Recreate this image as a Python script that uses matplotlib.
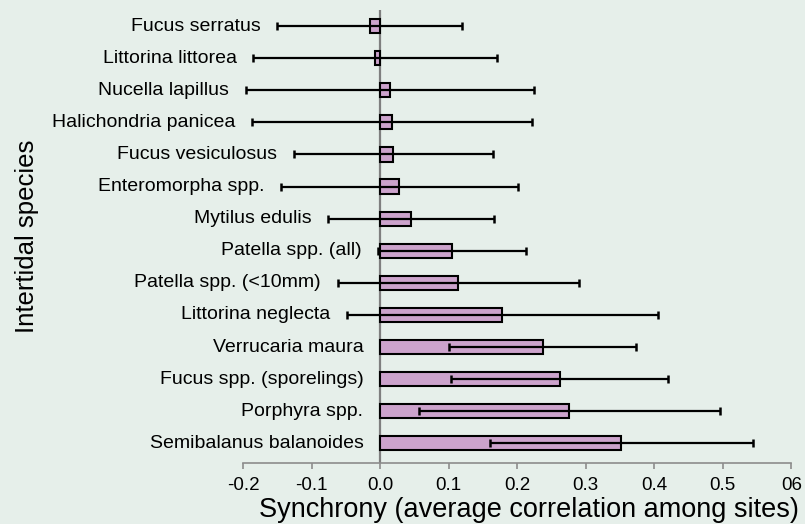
import numpy as np
import matplotlib
matplotlib.use("Agg")
import matplotlib.pyplot as plt

plt.rcParams['font.family'] = ['Liberation Sans', 'DejaVu Sans']

# species listed top to bottom
species = [
    "Fucus serratus", "Littorina littorea", "Nucella lapillus",
    "Halichondria panicea", "Fucus vesiculosus", "Enteromorpha spp.",
    "Mytilus edulis", "Patella spp. (all)", "Patella spp. (<10mm)",
    "Littorina neglecta", "Verrucaria maura", "Fucus spp. (sporelings)",
    "Porphyra spp.", "Semibalanus balanoides",
]
synchrony = [-0.015, -0.007, 0.014, 0.017, 0.019, 0.028, 0.045,
             0.105, 0.114, 0.178, 0.237, 0.262, 0.276, 0.352]
errors = [0.135, 0.178, 0.210, 0.204, 0.145, 0.173, 0.121,
          0.108, 0.176, 0.227, 0.137, 0.158, 0.220, 0.192]
xticks = [-0.2, -0.1, 0.0, 0.1, 0.2, 0.3, 0.4, 0.5, 0.6]
xticklabels = ["-0.2", "-0.1", "0.0", "0.1", "0.2", "0.3", "0.4", "0.5", "06"]

bg = "#e6efea"
fig = plt.figure(figsize=(8.05, 5.24), dpi=100, facecolor=bg)
ax = fig.add_axes([0.302, 0.117, 0.681, 0.864], facecolor=bg)

n = len(species)
ypos = np.arange(n)[::-1]

ax.axvline(0, color="#7f7f7f", lw=1.6, zorder=1)
ax.barh(ypos, synchrony, height=0.44, color="#cca3cc", edgecolor="black",
        linewidth=1.5, zorder=2)
ax.errorbar(synchrony, ypos, xerr=errors, fmt="none", ecolor="black",
            elinewidth=1.6, capsize=3, capthick=1.8, zorder=3)

for name, val, err, y in zip(species, synchrony, errors, ypos):
    left = min(val - err, 0)
    ax.annotate(name, xy=(left, y), xytext=(-12, 0), textcoords="offset points",
                ha="right", va="center", fontsize=14, annotation_clip=False)

ax.set_xlim(-0.2, 0.6)
ax.set_ylim(-0.6, n - 0.5)
ax.set_xticks(xticks)
ax.set_xticklabels(xticklabels, fontsize=13.5)
ax.set_yticks([])
for side in ["left", "right", "top"]:
    ax.spines[side].set_visible(False)
ax.spines["bottom"].set_color("#8c8c8c")
ax.spines["bottom"].set_linewidth(1.2)
ax.tick_params(axis="x", colors="#8c8c8c", length=4, width=1.2, pad=6,
               labelcolor="black")

fig.text(529 / 805, 1 - 510 / 524, "Synchrony (average correlation among sites)",
         ha="center", va="center", fontsize=19.5)
fig.text(27 / 805, 1 - 236 / 524, "Intertidal species", rotation=90,
         ha="center", va="center", fontsize=18.5)

fig.savefig("out.png", dpi=100, facecolor=bg)
